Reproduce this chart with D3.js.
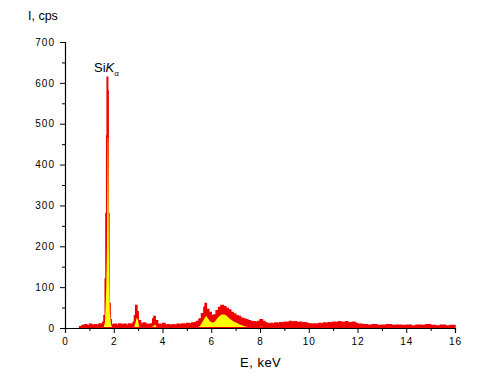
<!DOCTYPE html>
<html>
<head>
<meta charset="utf-8">
<script src="https://cdn.jsdelivr.net/npm/d3@7"></script>
<style>
  body { margin: 0; background: #fff; }
  svg text { font-family: "Liberation Sans", Arial, sans-serif; fill: #000; }
</style>
</head>
<body>
<svg id="chart" width="493" height="386"></svg>
<script>
// energy channels, keV
const energy = [0.6,0.7,0.8,0.9,1.0,1.1,1.2,1.3,1.4,1.5,1.55,1.6,1.65,1.68,1.71,1.73,1.75,1.77,1.8,1.85,1.9,
  2.0,2.1,2.2,2.3,2.4,2.5,2.6,2.7,2.8,2.85,2.9,2.95,3.0,3.1,3.2,3.3,3.4,3.5,3.6,3.65,3.7,3.8,3.9,
  4.0,4.1,4.2,4.3,4.4,4.5,4.6,4.7,4.8,4.9,5.0,5.1,5.2,5.3,5.4,5.5,5.6,5.7,5.75,5.8,5.9,
  6.0,6.1,6.2,6.3,6.4,6.5,6.6,6.7,6.8,6.9,7.0,7.1,7.2,7.3,7.4,7.5,7.6,7.7,7.8,7.9,
  8.0,8.1,8.2,8.3,8.4,8.5,8.6,8.7,8.8,8.9,9.0,9.1,9.2,9.3,9.4,9.5,9.6,9.7,9.8,9.9,
  10.0,10.1,10.2,10.3,10.4,10.5,10.6,10.7,10.8,10.9,11.0,11.1,11.2,11.3,11.4,11.5,11.6,11.7,11.8,11.9,
  12.0,12.2,12.4,12.6,12.8,13.0,13.2,13.4,13.6,13.8,14.0,14.2,14.4,14.6,14.8,15.0,15.2,15.4,15.6,15.8,16.0];

// measured spectrum (red), cps
const counts = [3,6,8,5,9,6,8,7,10,9,14,30,120,280,470,614,580,280,60,20,8,
  9,7,10,8,9,7,10,9,14,30,55,40,18,10,12,9,8,10,22,28,18,9,8,
  11,7,8,6,8,7,9,8,10,9,11,10,12,13,16,22,35,50,60,45,38,
  30,32,42,50,55,52,48,44,38,34,30,28,24,22,20,18,16,15,14,16,
  20,16,12,10,11,10,12,11,13,12,14,13,16,14,15,13,14,12,13,11,
  10,9,10,9,11,10,12,11,13,12,14,13,15,14,13,15,12,13,14,11,
  9,8,7,8,6,7,8,6,7,6,7,5,7,6,8,6,5,7,5,6,5];

// fitted peak area (yellow), cps
const fitted = [0,0,0,0,0,0,0,0,0,2,6,20,100,200,470,470,280,120,40,12,0,
  0,0,0,0,0,0,0,0,4,18,30,25,8,0,2,0,0,2,10,14,8,0,0,
  0,0,0,0,0,0,0,0,2,2,3,3,4,4,6,10,20,30,35,30,22,
  18,20,28,34,38,38,34,28,24,20,18,14,12,10,8,6,4,4,5,6,
  8,6,2,0,2,0,2,2,3,3,4,4,4,4,5,4,3,3,2,2,
  0,0,0,0,2,2,2,3,3,3,4,4,4,4,4,3,2,3,2,2,
  0,0,0,0,0,0,0,0,0,0,0,0,0,0,0,0,0,0,0,0,0];

const xTicks = [0, 2, 4, 6, 8, 10, 12, 14, 16];
const yTicks = [0, 100, 200, 300, 400, 500, 600, 700];

const svg = d3.select("#chart");
const margin = { left: 65, right: 38, top: 42, bottom: 58 };
const width = 493 - margin.left - margin.right;
const height = 386 - margin.top - margin.bottom;

const x = d3.scaleLinear().domain([0, 16]).range([margin.left, margin.left + width]);
const y = d3.scaleLinear().domain([0, 700]).range([margin.top + height, margin.top]);

const data = energy.map((e, i) => ({ e: e, c: counts[i], f: fitted[i] }));

// red spectrum
svg.append("path")
  .datum(data)
  .attr("fill", "#ee0000")
  .attr("stroke", "#ee0000")
  .attr("stroke-width", 1.5)
  .attr("d", d3.area().curve(d3.curveStepAfter).x(d => x(d.e)).y0(y(0)).y1(d => y(d.c)));

// yellow fill
svg.append("path")
  .datum(data)
  .attr("fill", "#ffff00")
  .attr("d", d3.area().curve(d3.curveLinear).x(d => x(d.e) + 1).y0(y(0) - 1).y1(d => Math.min(y(0) - 1, y(d.f) + 2)));

// axes
const xAxis = svg.append("g")
  .attr("transform", `translate(0,${margin.top + height})`)
  .call(d3.axisBottom(x).tickValues(xTicks).tickSize(5).tickPadding(5).tickFormat(d3.format("d")));
svg.append("g")
  .attr("transform", `translate(0,${margin.top + height})`)
  .call(d3.axisBottom(x).tickValues(d3.range(1, 16, 2)).tickSize(3).tickFormat(""))
  .select(".domain").remove();

const yAxis = svg.append("g")
  .attr("transform", `translate(${margin.left},0)`)
  .call(d3.axisLeft(y).tickValues(yTicks).tickSize(5).tickPadding(5).tickFormat(d3.format("d")));
svg.append("g")
  .attr("transform", `translate(${margin.left},0)`)
  .call(d3.axisLeft(y).tickValues(d3.range(50, 700, 100)).tickSize(3).tickFormat(""))
  .select(".domain").remove();

svg.selectAll(".domain").attr("stroke", "#000").attr("stroke-width", 1.2);
svg.selectAll(".tick line").attr("stroke", "#000");
svg.selectAll(".tick text")
  .style("font-family", "Liberation Sans, Arial, sans-serif")
  .style("font-size", "10px")
  .style("letter-spacing", "1px");

// axis titles
svg.append("text")
  .attr("x", 28).attr("y", 20)
  .style("font-size", "12.5px")
  .text("I, cps");

svg.append("text")
  .attr("x", 240).attr("y", 367)
  .style("font-size", "13px")
  .style("letter-spacing", "0.5px")
  .text("E, keV");

// peak label
const lab = svg.append("text")
  .attr("x", 94).attr("y", 72)
  .style("font-size", "13px");
lab.append("tspan").text("Si");
lab.append("tspan").style("font-style", "italic").text("K");
lab.append("tspan").attr("dy", 4).style("font-size", "8px").text("α");
</script>
</body>
</html>
